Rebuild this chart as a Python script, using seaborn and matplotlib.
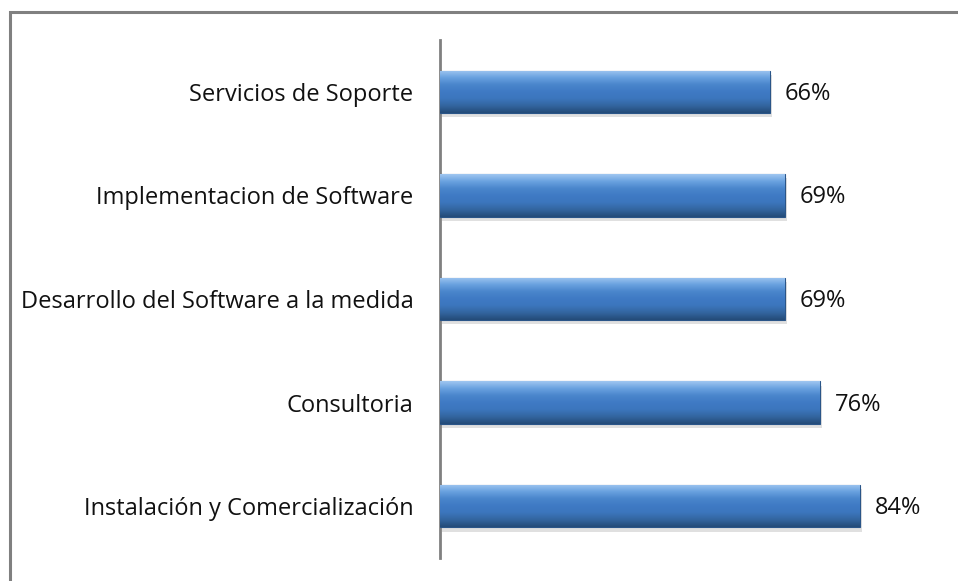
import numpy as np
import pandas as pd
import matplotlib
matplotlib.use("Agg")
import matplotlib.pyplot as plt
from matplotlib.colors import LinearSegmentedColormap
from matplotlib.patches import Rectangle
import seaborn as sns

CATEGORIES = [
    "Servicios de Soporte",
    "Implementacion de Software",
    "Desarrollo del Software a la medida",
    "Consultoria",
    "Instalación y Comercialización",
]
VALUES = [66, 69, 69, 76, 84]
LABELS = ["66%", "69%", "69%", "76%", "84%"]

sns.set_style("white")
plt.rcParams["font.family"] = ["Open Sans", "DejaVu Sans"]

df = pd.DataFrame({"cat": CATEGORIES, "val": VALUES})

fig = plt.figure(figsize=(9.58, 5.81), dpi=100)
ax = fig.add_axes([440 / 958, 23 / 581, 500 / 958, 518 / 581])

sns.barplot(data=df, x="val", y="cat", orient="h", color="#3f78c0",
            width=0.41, saturation=1, ax=ax, zorder=3)

# bevelled gradient look on each bar
grad = LinearSegmentedColormap.from_list(
    "bevel", ["#9fc6f0", "#6aa2e0", "#4a86cc", "#3f7ac4", "#3c76bd", "#33659f", "#244b78"])
for p in ax.patches:
    x0, y0 = p.get_x(), p.get_y()
    w, h = p.get_width(), p.get_height()
    # drop shadow
    ax.add_patch(Rectangle((x0 + 0.3, y0 + 0.04), w, h, color="#000000",
                           alpha=0.12, lw=0, zorder=2))
    img = ax.imshow(np.linspace(0, 1, 100).reshape(-1, 1), cmap=grad, aspect="auto",
                    extent=[x0, x0 + w, y0 + h, y0], zorder=4, interpolation="bicubic")
    img.set_clip_path(p)
    p.set_edgecolor("#2a5588")
    p.set_linewidth(0.8)

for p, lab in zip(ax.patches, LABELS):
    ax.text(p.get_x() + p.get_width() + 3.0, p.get_y() + p.get_height() / 2 + 0.02, lab,
            va="center", ha="left", fontsize=17, color="#111111")

ax.set_xlim(0, 100)
ax.set_ylim(4.5, -0.5)
ax.set_xlabel("")
ax.set_ylabel("")
ax.set_xticks([])
ax.tick_params(axis="y", length=0, pad=19, labelsize=17, labelcolor="#111111")
for s in ["top", "right", "bottom"]:
    ax.spines[s].set_visible(False)
ax.spines["left"].set_color("#808080")
ax.spines["left"].set_linewidth(2)

# outer frame (only top and left edges visible in the crop)
fig.patches.append(Rectangle((9.5 / 958, -0.1), 1.2, (581 - 12 + 58) / 581,
                             transform=fig.transFigure, fill=False,
                             edgecolor="#808080", lw=2.2))

fig.savefig("out.png", dpi=100)
